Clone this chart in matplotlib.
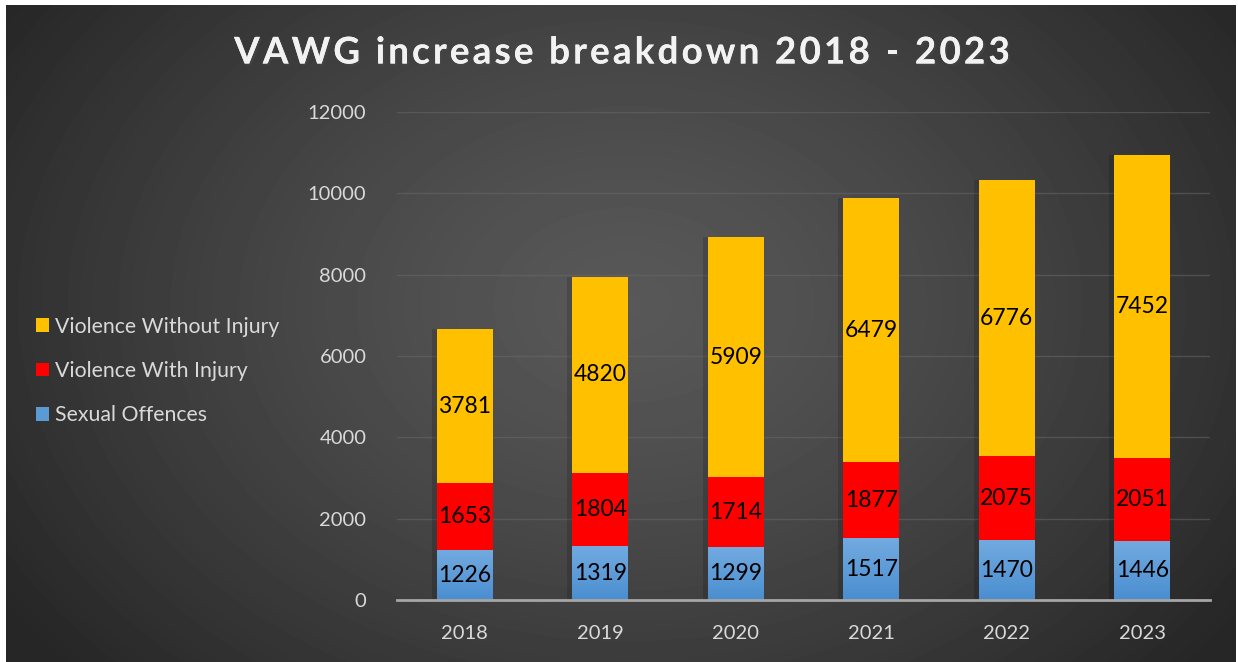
import matplotlib.pyplot as plt
import matplotlib.patheffects as pe
from matplotlib.colors import LinearSegmentedColormap
import numpy as np

plt.rcParams['font.family'] = ['Lato', 'DejaVu Sans']

years = ['2018', '2019', '2020', '2021', '2022', '2023']
sexual = [1226, 1319, 1299, 1517, 1470, 1446]
with_injury = [1653, 1804, 1714, 1877, 2075, 2051]
without_injury = [3781, 4820, 5909, 6479, 6776, 7452]
title = 'VAWG increase breakdown 2018 - 2023'

W, H = 1238, 662
fig = plt.figure(figsize=(W / 100, H / 100), dpi=100, facecolor='white')

# dark radial gradient background
bg = fig.add_axes([6 / W, 0, (1236 - 6) / W, (H - 5) / H])
bg.set_axis_off()
yy, xx = np.mgrid[0:657, 0:1230]
d = np.sqrt(((xx - 620) / 760.0) ** 2 + ((yy - 300) / 560.0) ** 2)
g = np.clip(0.345 - 0.2 * d ** 1.3, 0.15, 0.36)
bg.imshow(g, cmap='gray', vmin=0, vmax=1, aspect='auto', interpolation='bilinear')

ax = fig.add_axes([397 / W, (H - 600) / H, (1210 - 397) / W, (600 - 112) / H])
ax.patch.set_alpha(0)

x = np.arange(len(years))
bw = 0.41
bottom2 = np.array(sexual)
bottom3 = bottom2 + np.array(with_injury)
totals = bottom3 + np.array(without_injury)

# bar shadows
ax.bar(x - 0.03, totals, bw + 0.02, color='black', alpha=0.15, zorder=2)

b1 = ax.bar(x, sexual, bw, color='#5b9bd5', zorder=3, label='Sexual Offences')
b2 = ax.bar(x, with_injury, bw, bottom=bottom2, color='#ff0000', zorder=3,
            label='Violence With Injury')
b3 = ax.bar(x, without_injury, bw, bottom=bottom3, color='#ffc000', zorder=3,
            label='Violence Without Injury')

# vertical gradient on the blue segments
grad = np.linspace(0, 1, 100).reshape(-1, 1)
bcmap = LinearSegmentedColormap.from_list('b', ['#4a8ed0', '#72aae0'])
for r in b1:
    x0, w, h = r.get_x(), r.get_width(), r.get_height()
    ax.imshow(grad, cmap=bcmap, extent=[x0, x0 + w, 0, h], origin='lower',
              aspect='auto', zorder=3.5)

for bars in (b1, b2, b3):
    ax.bar_label(bars, label_type='center', fontsize=16.5, color='black', zorder=5)

ax.set_xlim(-0.5, len(years) - 0.5)
ax.set_ylim(0, 12000)
ax.set_yticks(range(0, 12001, 2000))
ax.set_xticks(x, years)
ax.grid(axis='y', color='#6a6a6a', alpha=0.5, linewidth=1, zorder=1)
ax.tick_params(axis='both', length=0, labelsize=14.5, colors='#d9d9d9')
ax.tick_params(axis='y', pad=22)
ax.tick_params(axis='x', pad=18)
for s in ['top', 'right', 'left']:
    ax.spines[s].set_visible(False)
ax.spines['bottom'].set_color('#a6a6a6')
ax.spines['bottom'].set_linewidth(2)
ax.spines['bottom'].set_zorder(4)

# letter-spaced title, drawn one character at a time
renderer = fig.canvas.get_renderer()
tkw = dict(fontsize=26.5, fontweight='bold', color='#f2f2f2', va='center',
           ha='left',
           path_effects=[pe.withSimplePatchShadow(offset=(1.5, -1.5), alpha=0.5),
                         pe.Normal()])
spacing = 3.2
widths = []
for ch in title:
    t = fig.text(0, 0, ch if ch != ' ' else 'n', **tkw)
    wpx = t.get_window_extent(renderer).width
    if ch == ' ':
        wpx *= 0.45
    widths.append(wpx)
    t.remove()
total = sum(widths) + spacing * (len(title) - 1)
cx = 622
xpos = cx - total / 2
for ch, wpx in zip(title, widths):
    if ch != ' ':
        fig.text(xpos / W, 1 - 53 / H, ch, **tkw)
    xpos += wpx + spacing

leg = fig.legend(handles=[b3, b2, b1], loc='center left',
                 bbox_to_anchor=(17 / W, 1 - 371 / H), frameon=False,
                 fontsize=15.3, labelcolor='#d9d9d9', handlelength=0.6,
                 handleheight=0.6, handletextpad=0.3, labelspacing=1.15)

fig.savefig('out.png', dpi=100, facecolor=fig.get_facecolor())
